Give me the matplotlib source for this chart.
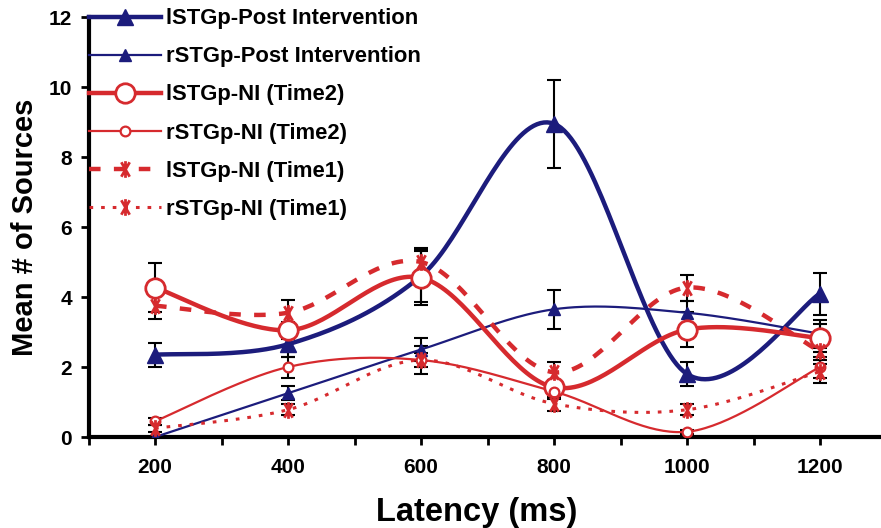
import numpy as np
import matplotlib
matplotlib.use("Agg")
import matplotlib.pyplot as plt
from matplotlib.path import Path
from matplotlib.lines import Line2D

plt.rcParams['font.family'] = ['Liberation Sans', 'DejaVu Sans']
plt.rcParams['font.weight'] = 'bold'

latency = [200, 400, 600, 800, 1000, 1200]

l_post = [2.35, 2.65, 4.6, 8.95, 1.8, 4.1]
l_post_err = [0.35, 0.35, 0.75, 1.25, 0.35, 0.6]
r_post = [0.0, 1.25, 2.5, 3.65, 3.55, 2.95]
r_post_err = [0.0, 0.2, 0.33, 0.55, 0.35, 0.4]
l_ni2 = [4.27, 3.05, 4.55, 1.42, 3.07, 2.83]
l_ni2_err = [0.7, 0.25, 0.77, 0.2, 0.5, 0.4]
r_ni2 = [0.45, 2.0, 2.2, 1.3, 0.15, 2.0]
r_ni2_err = [0.1, 0.3, 0.2, 0.2, 0.05, 0.3]
l_ni1 = [3.75, 3.55, 5.0, 1.85, 4.27, 2.45]
l_ni1_err = [0.37, 0.37, 0.4, 0.3, 0.37, 0.35]
r_ni1 = [0.25, 0.78, 2.2, 0.95, 0.78, 1.87]
r_ni1_err = [0.1, 0.15, 0.4, 0.2, 0.15, 0.33]

labels = ["lSTGp-Post Intervention", "rSTGp-Post Intervention",
          "lSTGp-NI (Time2)", "rSTGp-NI (Time2)",
          "lSTGp-NI (Time1)", "rSTGp-NI (Time1)"]

navy = "#1c1c7c"
red = "#d62a2e"


def smooth(xs, ys, n=40):
    # spreadsheet-style smoothed line (cubic bezier through each point)
    xs = np.asarray(xs, float)
    ys = np.asarray(ys, float)
    px = np.concatenate([[xs[0]], xs, [xs[-1]]])
    py = np.concatenate([[ys[0]], ys, [ys[-1]]])
    outx, outy = [], []
    t = np.linspace(0, 1, n)
    for i in range(1, len(px) - 2):
        p0 = np.array([px[i], py[i]])
        p3 = np.array([px[i + 1], py[i + 1]])
        c1 = p0 + (np.array([px[i + 1], py[i + 1]]) - np.array([px[i - 1], py[i - 1]])) / 6
        c2 = p3 - (np.array([px[i + 2], py[i + 2]]) - np.array([px[i], py[i]])) / 6
        b = ((1 - t) ** 3)[:, None] * p0 + (3 * (1 - t) ** 2 * t)[:, None] * c1 \
            + (3 * (1 - t) * t ** 2)[:, None] * c2 + (t ** 3)[:, None] * p3
        outx.extend(b[:, 0])
        outy.extend(b[:, 1])
    return outx, outy


# asterisk marker: vertical bar plus a tall X
a = np.deg2rad(60)
star = Path([(0, -1), (0, 1),
             (-np.cos(a), -np.sin(a)), (np.cos(a), np.sin(a)),
             (-np.cos(a), np.sin(a)), (np.cos(a), -np.sin(a))],
            [Path.MOVETO, Path.LINETO] * 3)

fig = plt.figure(figsize=(8.81, 5.28), dpi=100)
ax = fig.add_axes([0.1005, 0.1723, 0.9058, 0.7955])

series = [
    (l_post, l_post_err, dict(color=navy, lw=3.2, ls='-', marker='^', ms=12, mfc=navy, mec=navy)),
    (r_post, r_post_err, dict(color=navy, lw=1.6, ls='-', marker='^', ms=9, mfc=navy, mec=navy)),
    (l_ni2, l_ni2_err, dict(color=red, lw=3.2, ls='-', marker='o', ms=14, mfc='white', mec=red, mew=2)),
    (r_ni2, r_ni2_err, dict(color=red, lw=1.6, ls='-', marker='o', ms=7, mfc='white', mec=red, mew=1.6)),
    (l_ni1, l_ni1_err, dict(color=red, lw=3.2, ls=(0, (2.6, 3.0)), marker=star, ms=12, mfc=red, mec=red, mew=2)),
    (r_ni1, r_ni1_err, dict(color=red, lw=2.2, ls=(0, (1.2, 2.6)), marker=star, ms=12, mfc=red, mec=red, mew=2)),
]

handles = []
for (vals, errs, st), lab in zip(series, labels):
    ax.errorbar(latency, vals, yerr=errs, fmt='none', ecolor='black',
                elinewidth=1.5, capsize=5, capthick=1.5, zorder=2)
for (vals, errs, st), lab in zip(series, labels):
    sx, sy = smooth(latency, vals)
    ax.plot(sx, sy, color=st['color'], lw=st['lw'], ls=st['ls'], zorder=3)
    ax.plot(latency, vals, ls='none', marker=st['marker'], ms=st['ms'],
            mfc=st['mfc'], mec=st['mec'], mew=st.get('mew', 1), zorder=4)
    handles.append(Line2D([], [], color=st['color'], lw=st['lw'], ls=st['ls'],
                          marker=st['marker'], ms=st['ms'], mfc=st['mfc'],
                          mec=st['mec'], mew=st.get('mew', 1)))

ax.set_xlim(100, 1300)
ax.set_ylim(0, 12)
ax.set_xticks(np.arange(100, 1301, 100))
ax.set_xticklabels(['' if v % 200 else str(v) for v in range(100, 1301, 100)])
ax.set_yticks(np.arange(0, 13, 2))
ax.tick_params(axis='both', width=2, length=6, labelsize=15, direction='out')
ax.tick_params(axis='x', pad=9)
ax.tick_params(axis='y', pad=6)
for s in ['top', 'right']:
    ax.spines[s].set_visible(False)
for s in ['left', 'bottom']:
    ax.spines[s].set_linewidth(3)

ax.set_xlabel("Latency (ms)", fontsize=23.5, fontweight='bold')
ax.xaxis.set_label_coords(0.486, -0.142)
ax.set_ylabel("Mean # of Sources", fontsize=21, fontweight='bold', labelpad=7)

leg = ax.legend(handles, labels, loc='upper left', bbox_to_anchor=(0.0, 1.021),
                frameon=False, fontsize=15.8, handlelength=3.3, handletextpad=0.25,
                labelspacing=0.78, borderaxespad=0, borderpad=0)

fig.savefig("out.png", dpi=100)
